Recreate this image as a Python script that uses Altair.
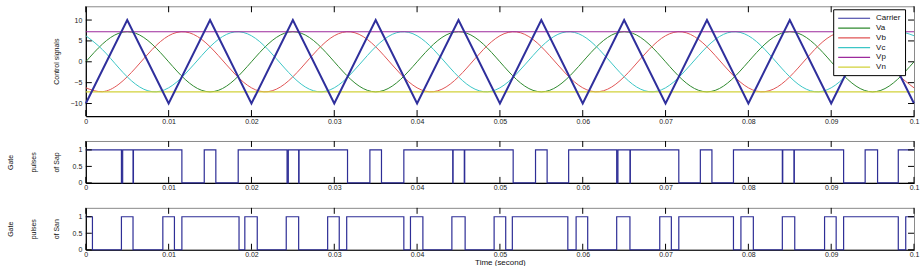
import altair as alt
import pandas as pd

# ---------------- data ----------------
SERIES = ["Carrier", "Va", "Vb", "Vc", "Vp", "Vn"]
COLORS = ["#2f2f9c", "#2f8a2f", "#e05555", "#3cc6c6", "#9c2a9c", "#d2d23a"]

T_SIG = [0.000, 0.002, 0.004, 0.006, 0.008, 0.010, 0.012, 0.014, 0.016, 0.018,
         0.020, 0.022, 0.024, 0.026, 0.028, 0.030, 0.032, 0.034, 0.036, 0.038,
         0.040, 0.042, 0.044, 0.046, 0.048, 0.050, 0.052, 0.054, 0.056, 0.058,
         0.060, 0.062, 0.064, 0.066, 0.068, 0.070, 0.072, 0.074, 0.076, 0.078,
         0.080, 0.082, 0.084, 0.086, 0.088, 0.090, 0.092, 0.094, 0.096, 0.098,
         0.100]
VA = [0, 4.23, 6.85, 6.85, 4.23, 0, -4.23, -6.85, -6.85, -4.23,
      0, 4.23, 6.85, 6.85, 4.23, 0, -4.23, -6.85, -6.85, -4.23,
      0, 4.23, 6.85, 6.85, 4.23, 0, -4.23, -6.85, -6.85, -4.23,
      0, 4.23, 6.85, 6.85, 4.23, 0, -4.23, -6.85, -6.85, -4.23,
      0, 4.23, 6.85, 6.85, 4.23, 0, -4.23, -6.85, -6.85, -4.23,
      0]
VB = [-6.24, -7.16, -5.35, -1.50, 2.93, 6.24, 7.16, 5.35, 1.50, -2.93,
      -6.24, -7.16, -5.35, -1.50, 2.93, 6.24, 7.16, 5.35, 1.50, -2.93,
      -6.24, -7.16, -5.35, -1.50, 2.93, 6.24, 7.16, 5.35, 1.50, -2.93,
      -6.24, -7.16, -5.35, -1.50, 2.93, 6.24, 7.16, 5.35, 1.50, -2.93,
      -6.24, -7.16, -5.35, -1.50, 2.93, 6.24, 7.16, 5.35, 1.50, -2.93,
      -6.24]
VC = [6.24, 2.93, -1.50, -5.35, -7.16, -6.24, -2.93, 1.50, 5.35, 7.16,
      6.24, 2.93, -1.50, -5.35, -7.16, -6.24, -2.93, 1.50, 5.35, 7.16,
      6.24, 2.93, -1.50, -5.35, -7.16, -6.24, -2.93, 1.50, 5.35, 7.16,
      6.24, 2.93, -1.50, -5.35, -7.16, -6.24, -2.93, 1.50, 5.35, 7.16,
      6.24, 2.93, -1.50, -5.35, -7.16, -6.24, -2.93, 1.50, 5.35, 7.16,
      6.24]

CARRIER_T = [0.000, 0.005, 0.010, 0.015, 0.020, 0.025, 0.030, 0.035, 0.040, 0.045,
             0.050, 0.055, 0.060, 0.065, 0.070, 0.075, 0.080, 0.085, 0.090, 0.095,
             0.100]
CARRIER_V = [-10, 10, -10, 10, -10, 10, -10, 10, -10, 10,
             -10, 10, -10, 10, -10, 10, -10, 10, -10, 10,
             -10]

LEVEL_T = [0.0, 0.1]
VP_LEVEL = 7.2
VN_LEVEL = -7.2

SAP_T = [0.0, 0.0043, 0.00445, 0.0057, 0.00575, 0.0116, 0.0143, 0.0157, 0.0184,
         0.0243, 0.02445, 0.0257, 0.02575, 0.0316, 0.0343, 0.0357, 0.0384,
         0.0443, 0.04435, 0.0457, 0.04575, 0.0516, 0.0543, 0.0557, 0.0583,
         0.0641, 0.06425, 0.0657, 0.06575, 0.0716, 0.0742, 0.0756, 0.0782,
         0.0841, 0.08415, 0.0855, 0.08555, 0.0915, 0.0941, 0.0956, 0.0981, 0.1]
SAP_V = [1, 0, 1, 0, 1, 0, 1, 0, 1,
         0, 1, 0, 1, 0, 1, 0, 1,
         0, 1, 0, 1, 0, 1, 0, 1,
         0, 1, 0, 1, 0, 1, 0, 1,
         0, 1, 0, 1, 0, 1, 0, 1, 1]

SAN_T = [0.0, 0.0008, 0.0043, 0.0057, 0.0093, 0.0107, 0.0116, 0.0185, 0.0192, 0.0207,
         0.0242, 0.0257, 0.0292, 0.0306, 0.0315, 0.0384, 0.0392, 0.0407,
         0.0442, 0.0458, 0.0493, 0.0507, 0.0515, 0.0582, 0.0592, 0.0606,
         0.0641, 0.0657, 0.0693, 0.0707, 0.0716, 0.0782, 0.0791, 0.0806,
         0.0841, 0.0856, 0.0892, 0.0906, 0.0915, 0.0981, 0.0990, 0.1]
SAN_V = [1, 0, 1, 0, 1, 0, 1, 0, 1, 0,
         1, 0, 1, 0, 1, 0, 1, 0,
         1, 0, 1, 0, 1, 0, 1, 0,
         1, 0, 1, 0, 1, 0, 1, 0,
         1, 0, 1, 0, 1, 0, 1, 1]

XTICKS = [0, 0.01, 0.02, 0.03, 0.04, 0.05, 0.06, 0.07, 0.08, 0.09, 0.1]
YTICKS_TOP = [-10, -5, 0, 5, 10]
YTICKS_PULSE = [0, 0.5, 1]

# ---------------- layout / style ----------------
W = 830
H_TOP = 110
H_PULSE = 42
FONT = "Liberation Sans"
TICK_LEN = 6
PULSE_COLOR = "#2e2e96"


def x_enc(title=None):
    return alt.X(
        "t:Q",
        scale=alt.Scale(domain=[0, 0.1], nice=False, zero=False),
        axis=alt.Axis(values=XTICKS, format="~g", ticks=False, tickSize=0,
                      grid=False, labelPadding=1, labelFlush=False,
                      title=title, titleFontSize=8, titlePadding=1,
                      titleFontWeight="normal", titleFont=FONT, titleColor="#111"),
    )


def y_enc(domain, ticks, title, title_x, line_height=23):
    return alt.Y(
        "v:Q",
        scale=alt.Scale(domain=domain, nice=False, zero=False),
        axis=alt.Axis(values=ticks, format="~f", ticks=False, tickSize=0, grid=False,
                      labelPadding=4, title=title, titleX=title_x,
                      titleAngle=270, titleBaseline="top", titleAlign="center",
                      titleFontSize=7, titleFontWeight="normal", titleFont=FONT,
                      titleLineHeight=line_height, titleColor="#111"),
    )


def frame_ticks(yticks, h, domain, title, title_x, xtitle=None):
    xt = pd.DataFrame({"t": XTICKS})
    yt = pd.DataFrame({"v": yticks})
    ye = y_enc(domain, yticks, title, title_x)
    top = alt.Chart(xt).mark_rule(color="black", strokeWidth=1).encode(
        x=x_enc(xtitle), y=alt.value(0), y2=alt.value(TICK_LEN))
    bottom = alt.Chart(xt).mark_rule(color="black", strokeWidth=1).encode(
        x=x_enc(xtitle), y=alt.value(h), y2=alt.value(h - TICK_LEN))
    left = alt.Chart(yt).mark_rule(color="black", strokeWidth=1).encode(
        y=ye, x=alt.value(0), x2=alt.value(TICK_LEN))
    right = alt.Chart(yt).mark_rule(color="black", strokeWidth=1).encode(
        y=ye, x=alt.value(W - TICK_LEN), x2=alt.value(W))
    return [top, bottom, left, right]


# ---------------- top panel: control signals ----------------
n = len(T_SIG)
sig_df = pd.DataFrame({
    "t": T_SIG * 3,
    "v": VA + VB + VC,
    "series": ["Va"] * n + ["Vb"] * n + ["Vc"] * n,
})
car_df = pd.DataFrame({"t": CARRIER_T, "v": CARRIER_V, "series": ["Carrier"] * len(CARRIER_T)})
lvl_df = pd.DataFrame({
    "t": LEVEL_T + LEVEL_T,
    "v": [VP_LEVEL, VP_LEVEL, VN_LEVEL, VN_LEVEL],
    "series": ["Vp", "Vp", "Vn", "Vn"],
})

TOP_DOMAIN = [-13.0, 13.3]
top_title = "Control signals"
top_title_x = -33

# line-sample legend symbol: 32 px long, starting at the symbol's left edge
color_enc = alt.Color(
    "series:N",
    scale=alt.Scale(domain=SERIES, range=COLORS),
    legend=alt.Legend(
        orient="none", legendX=749, legendY=3, title=None,
        symbolType="M-1,0L7,0", symbolSize=64, symbolStrokeWidth=1.2,
        labelFontSize=8, labelFont=FONT, labelColor="#111", labelOffset=29,
        strokeColor="black", fillColor="white", padding=4, rowPadding=0.8,
        cornerRadius=0,
    ),
)


def top_y():
    return y_enc(TOP_DOMAIN, YTICKS_TOP, top_title, top_title_x)


sines = alt.Chart(sig_df).mark_line(interpolate="natural", strokeWidth=1).encode(
    x=x_enc(), y=top_y(), color=color_enc)
levels = alt.Chart(lvl_df).mark_line(strokeWidth=1.2).encode(
    x=x_enc(), y=top_y(), color=color_enc)
carrier = alt.Chart(car_df).mark_line(strokeWidth=2).encode(
    x=x_enc(), y=top_y(), color=color_enc)

top_panel = alt.layer(
    sines, levels, carrier,
    *frame_ticks(YTICKS_TOP, H_TOP, TOP_DOMAIN, top_title, top_title_x)
).properties(width=W, height=H_TOP)

# ---------------- pulse panels ----------------
PULSE_DOMAIN = [0, 1.27]


def pulse_panel(ts, vs, title, xtitle=None):
    df = pd.DataFrame({"t": ts, "v": vs})
    line = alt.Chart(df).mark_line(interpolate="step-after", color=PULSE_COLOR,
                                   strokeWidth=1.2).encode(
        x=x_enc(xtitle), y=y_enc(PULSE_DOMAIN, YTICKS_PULSE, title, -79))
    ticks = frame_ticks(YTICKS_PULSE, H_PULSE, PULSE_DOMAIN, title, -79, xtitle)
    return alt.layer(line, *ticks).properties(width=W, height=H_PULSE)


sap_panel = pulse_panel(SAP_T, SAP_V, ["Gate", "pulses", "of Sap"])
san_panel = pulse_panel(SAN_T, SAN_V, ["Gate", "pulses", "of San"], "Time (second)")

chart = alt.vconcat(top_panel, sap_panel, san_panel, spacing=25, bounds="flush").properties(
    padding={"left": 6, "top": 5, "right": 0, "bottom": 0},
    background="white",
).configure_view(
    stroke="#8a8a8a", strokeWidth=1
).configure_axis(
    domainColor="black", domainWidth=1.2,
    labelFontSize=7, labelFont=FONT, labelColor="#222",
)

chart.save("out.html", embed_options={"renderer": "svg", "actions": False})
